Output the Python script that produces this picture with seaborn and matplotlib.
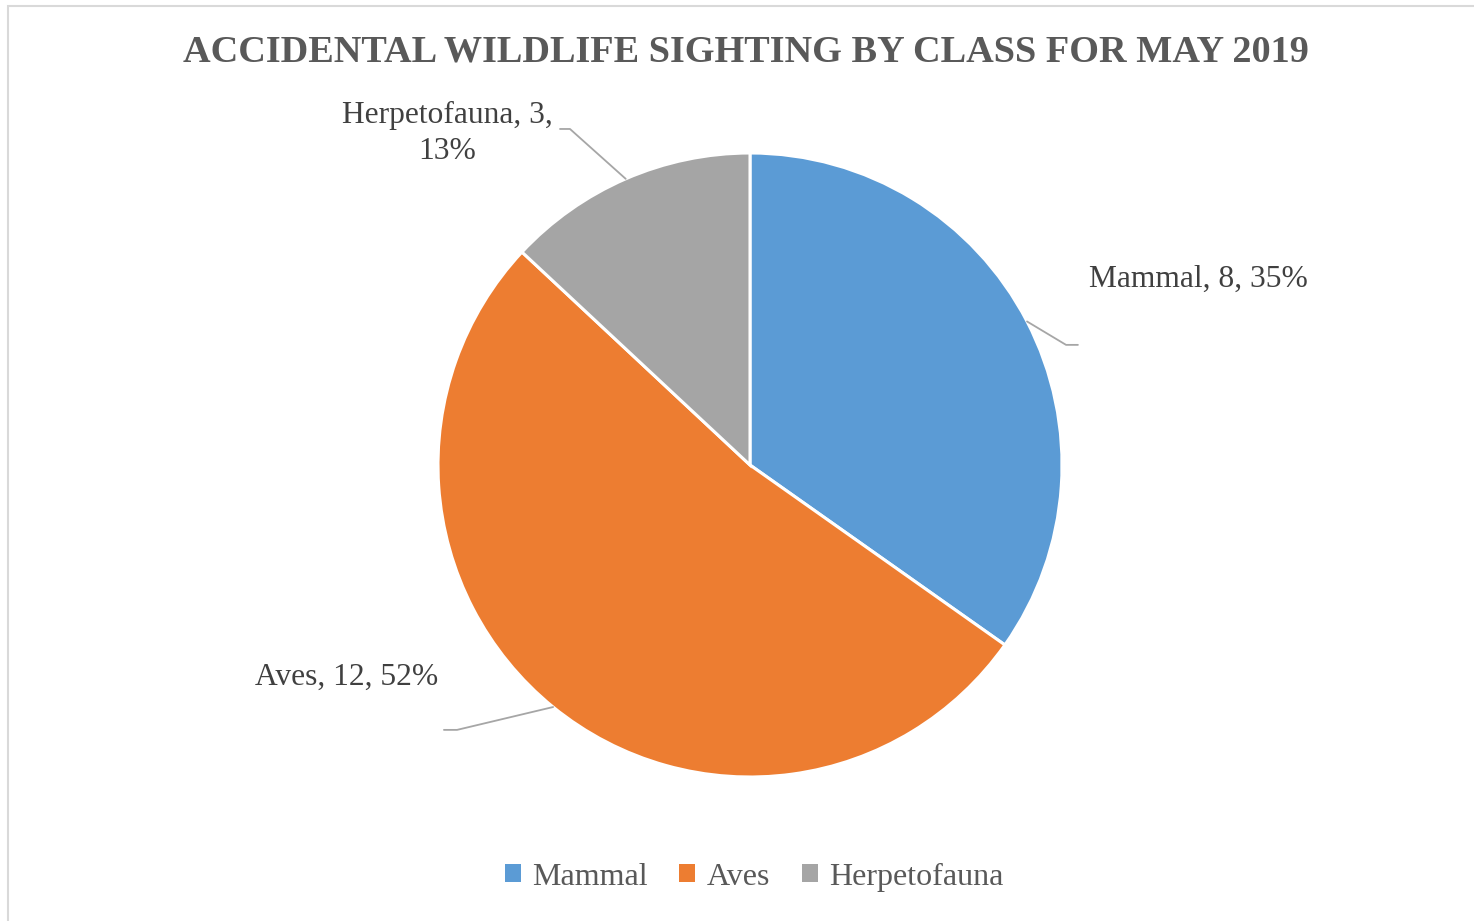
import numpy as np
import matplotlib
matplotlib.use("Agg")
import matplotlib.pyplot as plt
import matplotlib.patches as mpatches
import seaborn as sns

# data
classes = ["Mammal", "Aves", "Herpetofauna"]
counts = [8, 12, 3]
colors = ["#5B9BD5", "#ED7D31", "#A5A5A5"]
title = "ACCIDENTAL WILDLIFE SIGHTING BY CLASS FOR MAY 2019"

sns.set_theme(style="white")
plt.rcParams["font.family"] = ["Liberation Serif", "DejaVu Serif"]

W, H = 1474, 921
fig = plt.figure(figsize=(W / 100, H / 100), dpi=100)

# pie centre (750, 465) px, radius 312 px
cx, cy, r = 750, 465, 312
ax = fig.add_axes([(cx - r) / W, (H - cy - r) / H, 2 * r / W, 2 * r / H])
palette = sns.color_palette(colors)
wedges, _ = ax.pie(counts, colors=palette, startangle=90, counterclock=False,
                   radius=1, wedgeprops=dict(edgecolor="white", linewidth=2.2))
ax.set_xlim(-1, 1)
ax.set_ylim(-1, 1)
ax.set_aspect("equal")
ax.axis("off")

total = sum(counts)
# (elbow, end, text pos) in data units, for each slice
layout = {
    "Mammal": ((1.013, 0.385), (1.051, 0.385), (1.436, 0.571)),
    "Aves": ((-0.939, -0.849), (-0.981, -0.849), (-1.293, -0.705)),
    "Herpetofauna": ((-0.577, 1.077), (-0.609, 1.077), (-0.971, 0.981)),
}
for w, name, n in zip(wedges, classes, counts):
    mid = np.deg2rad((w.theta1 + w.theta2) / 2)
    start = (np.cos(mid), np.sin(mid))
    elbow, end, tpos = layout[name]
    ax.plot([start[0], elbow[0], end[0]], [start[1], elbow[1], end[1]],
            color="#A6A6A6", lw=1.3, clip_on=False)
    pct = round(100 * n / total)
    if name == "Herpetofauna":
        label = f"{name}, {n},\n{pct}%"
    else:
        label = f"{name}, {n}, {pct}%"
    ax.text(tpos[0], tpos[1], label, ha="center", va="baseline", fontsize=22.7,
            color="#404040", linespacing=1.32, clip_on=False, multialignment="center")

fig.text(746 / W, 1 - 61 / H, title, ha="center", va="baseline",
         fontsize=27.5, fontweight="bold", color="#595959")

handles = [mpatches.Patch(facecolor=c, edgecolor="none") for c in palette]
leg = fig.legend(handles, classes, loc="center", bbox_to_anchor=(754 / W, 1 - 877 / H),
                 ncol=3, frameon=False, fontsize=23, handlelength=0.5, handleheight=0.5,
                 handletextpad=0.35, columnspacing=1.0, labelcolor="#595959")

# light chart border
border = mpatches.Rectangle((8 / W, -0.1), 1.2, 1.1 - 6 / H, transform=fig.transFigure,
                            fill=False, edgecolor="#D9D9D9", lw=1.5)
fig.patches.append(border)

fig.savefig("out.png", dpi=100, facecolor="white")
